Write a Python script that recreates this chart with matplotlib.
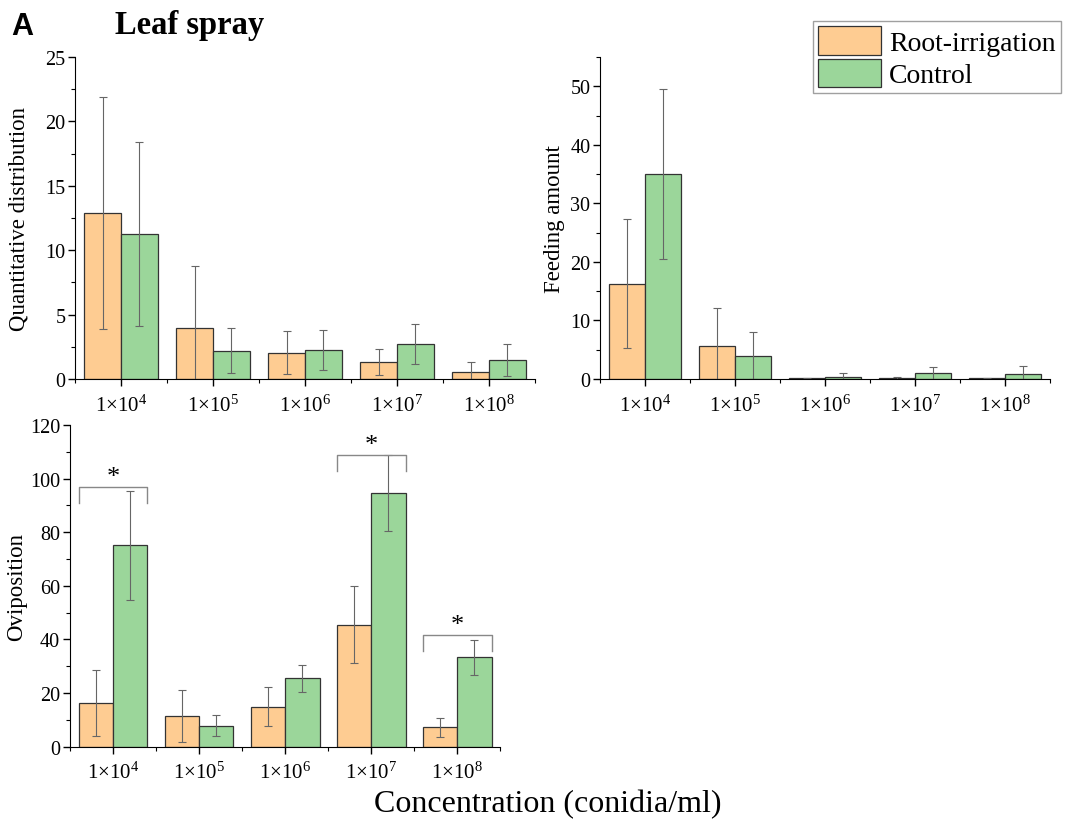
import numpy as np
import matplotlib
matplotlib.use('Agg')
import matplotlib.pyplot as plt
from matplotlib.patches import Patch
from matplotlib.ticker import MultipleLocator

plt.rcParams['font.family'] = ['Liberation Serif', 'DejaVu Serif']
plt.rcParams['mathtext.fontset'] = 'custom'
plt.rcParams['mathtext.rm'] = 'Liberation Serif'
plt.rcParams['mathtext.it'] = 'Liberation Serif:italic'
plt.rcParams['mathtext.bf'] = 'Liberation Serif:bold'

# data
concentrations = ['1×10$^{4}$', '1×10$^{5}$', '1×10$^{6}$', '1×10$^{7}$', '1×10$^{8}$']

quant_root = [12.9, 4.0, 2.05, 1.3, 0.55]
quant_root_err = [9.0, 4.75, 1.68, 1.0, 0.8]
quant_ctrl = [11.25, 2.2, 2.25, 2.7, 1.45]
quant_ctrl_err = [7.15, 1.73, 1.58, 1.55, 1.25]

feed_root = [16.3, 5.65, 0.1, 0.1, 0.1]
feed_root_err = [11.0, 6.4, 0.1, 0.2, 0.1]
feed_ctrl = [35.0, 4.0, 0.35, 0.95, 0.8]
feed_ctrl_err = [14.5, 4.0, 0.65, 1.1, 1.5]

ovi_root = [16.3, 11.5, 14.9, 45.5, 7.2]
ovi_root_err = [12.4, 9.8, 7.3, 14.3, 3.6]
ovi_ctrl = [75.1, 7.8, 25.5, 94.6, 33.3]
ovi_ctrl_err = [20.4, 3.85, 5.1, 14.3, 6.4]

# significance: (category index, bracket height)
sig_marks = [(0, 96.9), (3, 108.9), (4, 41.8)]

orange = '#FECC92'
green = '#9BD69A'
width = 0.4

fig = plt.figure(figsize=(10.65, 8.28), dpi=100)


def bar_panel(ax, root, root_err, ctrl, ctrl_err, ylim, major, ylabel, lpad):
    x = np.arange(1, len(concentrations) + 1)
    ekw = dict(ecolor='#666666', elinewidth=0.8, capsize=2.7, capthick=0.8)
    ax.bar(x - width / 2, root, width, yerr=root_err, color=orange,
           edgecolor='#333333', linewidth=0.9, error_kw=ekw)
    ax.bar(x + width / 2, ctrl, width, yerr=ctrl_err, color=green,
           edgecolor='#333333', linewidth=0.9, error_kw=ekw)
    ax.set_xlim(0.5, len(concentrations) + 0.5)
    ax.set_ylim(*ylim)
    ax.set_xticks(x)
    ax.set_xticklabels(concentrations, fontsize=15)
    ax.set_xticks(np.arange(0.5, len(concentrations) + 1, 1), minor=True)
    ax.yaxis.set_major_locator(MultipleLocator(major))
    ax.yaxis.set_minor_locator(MultipleLocator(major / 2))
    ax.tick_params(axis='y', labelsize=14.5, pad=2)
    ax.tick_params(axis='x', pad=6)
    ax.tick_params(which='major', length=5, width=1, direction='out')
    ax.tick_params(which='minor', length=3, width=0.8, direction='out')
    ax.spines['top'].set_visible(False)
    ax.spines['right'].set_visible(False)
    ax.set_ylabel(ylabel, fontsize=16.5, labelpad=lpad)
    return x


ax1 = fig.add_axes([0.0704, 0.541, 0.432, 0.389])
bar_panel(ax1, quant_root, quant_root_err, quant_ctrl, quant_ctrl_err,
          (0, 25), 5, 'Quantitative distribution', 11)

ax2 = fig.add_axes([0.5634, 0.541, 0.4225, 0.389])
bar_panel(ax2, feed_root, feed_root_err, feed_ctrl, feed_ctrl_err,
          (0, 55), 10, 'Feeding amount', 4)

ax3 = fig.add_axes([0.0657, 0.097, 0.404, 0.3885])
x3 = bar_panel(ax3, ovi_root, ovi_root_err, ovi_ctrl, ovi_ctrl_err,
               (0, 120), 20, 'Oviposition', 2)

for idx, h in sig_marks:
    left = x3[idx] - width
    right = x3[idx] + width
    ax3.plot([left, left, right, right], [h - 6, h, h, h - 6],
             color='#888888', linewidth=1)
    ax3.text(x3[idx], h - 0.5, '*', ha='center', va='bottom', fontsize=19)

fig.text(0.011, 0.967, 'A', fontsize=22, fontweight='bold',
         family='Liberation Sans', va='center', ha='left')
fig.text(0.108, 0.969, 'Leaf spray', fontsize=23.5, fontweight='bold',
         va='center', ha='left')
fig.text(0.514, 0.028, 'Concentration (conidia/ml)', fontsize=23,
         ha='center', va='center')

handles = [Patch(facecolor=orange, edgecolor='#333333', linewidth=0.9),
           Patch(facecolor=green, edgecolor='#333333', linewidth=0.9)]
fig.legend(handles, ['Root-irrigation', 'Control'], loc='upper right',
           bbox_to_anchor=(0.996, 0.973), fontsize=20, frameon=True,
           fancybox=False, edgecolor='#888888', handlelength=2.27,
           handleheight=1.2, labelspacing=0.1, borderpad=0.18,
           handletextpad=0.3, borderaxespad=0)

fig.savefig('out.png', dpi=100)
